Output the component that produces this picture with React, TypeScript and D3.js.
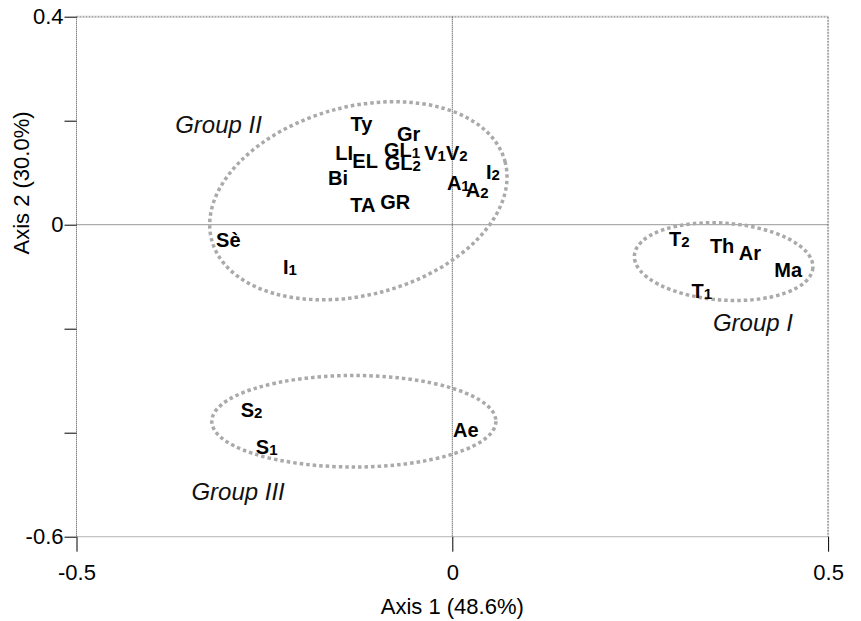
import React, { useEffect, useRef } from 'react';
import * as d3 from 'd3';

// factor scores
const names = ["Ty", "Gr", "LI", "EL", "GL1", "GL2", "V1", "V2", "I2", "A1", "A2", "Bi", "TA", "GR", "Sè", "I1", "T2", "Th", "Ar", "Ma", "T1", "S2", "S1", "Ae"];
const axis1 = [-0.121, -0.058, -0.144, -0.116, -0.067, -0.066, -0.023, 0.006, 0.054, 0.008, 0.033, -0.152, -0.119, -0.076, -0.298, -0.216, 0.302, 0.359, 0.396, 0.447, 0.332, -0.267, -0.247, 0.018];
const axis2 = [0.194, 0.174, 0.138, 0.122, 0.144, 0.119, 0.138, 0.138, 0.101, 0.080, 0.067, 0.090, 0.038, 0.044, -0.029, -0.081, -0.028, -0.041, -0.054, -0.087, -0.128, -0.357, -0.428, -0.395];

// group envelopes (data units) and their captions
const groupNames = ["Group I", "Group II", "Group III"];
const groupCx = [0.361, -0.125, -0.131];
const groupCy = [-0.071, 0.046, -0.378];
const groupRx = [0.119, 0.202, 0.189];
const groupRy = [0.074, 0.181, 0.088];
const groupTilt = [4, -15, 0];
const captionX = [0.400, -0.311, -0.285];
const captionY = [-0.189, 0.192, -0.514];

const xTicks = [-0.5, 0, 0.5];
const yTicks = [0.4, 0.2, 0, -0.2, -0.4, -0.6];
const yLabelled = [0.4, 0, -0.6];

const W = 861;
const H = 621;
const FONT = '"Liberation Sans", Arial, sans-serif';

const App: React.FC = () => {
  const svgRef = useRef<SVGSVGElement>(null);

  useEffect(() => {
    if (!svgRef.current) return;
    const svg = d3.select(svgRef.current);
    svg.selectAll("*").remove();

    const x = d3.scaleLinear().domain([-0.5, 0.5]).range([76.5, 828.1]);
    const y = d3.scaleLinear().domain([-0.6, 0.4]).range([536.7, 16.7]);
    const [x0, x1] = x.range();
    const [y0, y1] = y.range();

    // frame: top/right light grey, bottom grey, left dark
    svg.append("line").attr("x1", x0).attr("x2", x1).attr("y1", y1).attr("y2", y1)
      .attr("stroke", "#aaa").attr("stroke-width", 2).attr("stroke-dasharray", "2,1");
    svg.append("line").attr("x1", x1).attr("x2", x1).attr("y1", y1).attr("y2", y0)
      .attr("stroke", "#aaa").attr("stroke-width", 2).attr("stroke-dasharray", "2,1");
    svg.append("line").attr("x1", x0).attr("x2", x1).attr("y1", y0).attr("y2", y0)
      .attr("stroke", "#888").attr("stroke-width", 1.2).attr("stroke-dasharray", "1,1");
    svg.append("line").attr("x1", x0).attr("x2", x0).attr("y1", y1).attr("y2", y0)
      .attr("stroke", "#444").attr("stroke-width", 1).attr("stroke-dasharray", "1,1");

    // zero lines
    svg.append("line").attr("x1", x(0)).attr("x2", x(0)).attr("y1", y1).attr("y2", y0)
      .attr("stroke", "#333").attr("stroke-width", 1).attr("stroke-dasharray", "1,1");
    svg.append("line").attr("x1", x0).attr("x2", x1).attr("y1", y(0)).attr("y2", y(0))
      .attr("stroke", "#333").attr("stroke-width", 1).attr("stroke-dasharray", "1,1");

    // axes
    const yAxis = d3.axisLeft(y).tickValues(yTicks).tickSize(12).tickPadding(1)
      .tickFormat(d => yLabelled.includes(+d) ? String(d) : "");
    const gy = svg.append("g").attr("transform", `translate(${x0},0)`).call(yAxis);
    gy.select(".domain").remove();
    gy.selectAll("line").attr("stroke", "#000");
    gy.selectAll("text").attr("font-family", FONT).attr("font-size", 22).attr("fill", "#000");

    const xAxis = d3.axisBottom(x).tickValues(xTicks).tickSize(15).tickPadding(13)
      .tickFormat(d => String(d));
    const gx = svg.append("g").attr("transform", `translate(0,${y0})`).call(xAxis);
    gx.select(".domain").remove();
    gx.selectAll("line").attr("stroke", "#000");
    gx.selectAll("text").attr("font-family", FONT).attr("font-size", 22).attr("fill", "#000");

    // axis titles
    svg.append("text")
      .attr("x", x(0)).attr("y", 614)
      .attr("text-anchor", "middle")
      .attr("font-family", FONT).attr("font-size", 22)
      .text("Axis 1 (48.6%)");
    svg.append("text")
      .attr("transform", "translate(29,183) rotate(-90)")
      .attr("text-anchor", "middle")
      .attr("font-family", FONT).attr("font-size", 22)
      .text("Axis 2 (30.0%)");

    // group envelopes
    groupNames.forEach((g, i) => {
      const cx = x(groupCx[i]);
      const cy = y(groupCy[i]);
      svg.append("ellipse")
        .attr("cx", cx).attr("cy", cy)
        .attr("rx", x(groupRx[i]) - x(0))
        .attr("ry", y(0) - y(groupRy[i]))
        .attr("transform", `rotate(${groupTilt[i]},${cx},${cy})`)
        .attr("fill", "none")
        .attr("stroke", "#aaa")
        .attr("stroke-width", 3.5)
        .attr("stroke-dasharray", "3.5,3");
      svg.append("text")
        .attr("x", x(captionX[i])).attr("y", y(captionY[i]))
        .attr("dy", "0.35em")
        .attr("text-anchor", "middle")
        .attr("font-family", FONT).attr("font-size", 24).attr("font-style", "italic")
        .attr("fill", "#111")
        .text(g);
    });

    // point labels, trailing digit set smaller as a subscript
    names.forEach((n, i) => {
      const m = n.match(/^(.*?)(\d)?$/) as RegExpMatchArray;
      const t = svg.append("text")
        .attr("x", x(axis1[i])).attr("y", y(axis2[i]))
        .attr("dy", "0.35em")
        .attr("text-anchor", "middle")
        .attr("font-family", FONT).attr("font-size", 20).attr("font-weight", "bold")
        .attr("fill", "#000");
      t.append("tspan").text(m[1]);
      if (m[2]) t.append("tspan").attr("font-size", 15).attr("dy", 1).text(m[2]);
    });
  }, []);

  return (
    <svg
      ref={svgRef}
      width={W}
      height={H}
      style={{ position: 'absolute', left: 0, top: 0, background: '#fff' }}
    />
  );
};

export default App;
